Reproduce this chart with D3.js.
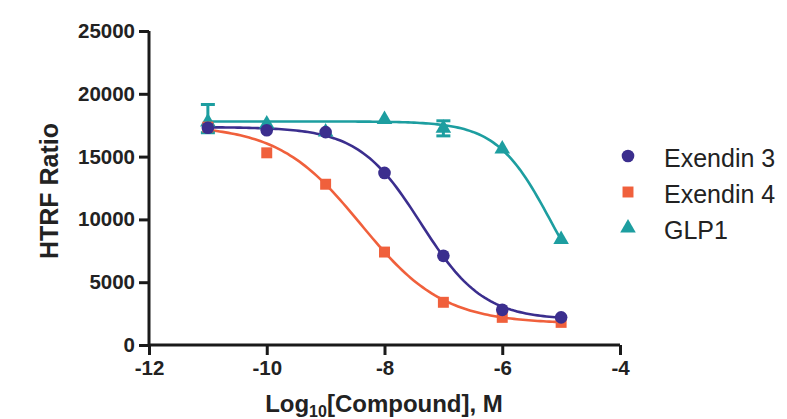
<!DOCTYPE html>
<html><head><meta charset="utf-8">
<script src="https://cdn.jsdelivr.net/npm/d3@7"></script>
<style>body{margin:0;background:#fff}svg{display:block}</style>
</head><body>
<svg id="c" width="787" height="419"></svg>
<script>
const logDose = [-11, -10, -9, -8, -7, -6, -5];
const exendin3 = [17300, 17100, 16950, 13700, 7100, 2800, 2200];
const exendin4 = [17350, 15300, 12800, 7400, 3400, 2200, 1800];
const glp1 = [17750, 17600, 16950, 17950, 17250, 15600, 8400];
const glp1ErrUp = [19150, null, null, null, 17850, null, null];
const glp1ErrLo = [16900, null, null, null, 16650, null, null];
// fitted 4-parameter logistic curves: top, bottom, logEC50, hill
const fitTop = [17350, 17500, 17800];
const fitBottom = [2000, 1700, 2000];
const fitLogEC50 = [-7.38, -8.4, -5.18];
const fitHill = [0.82, 0.62, 0.95];
const seriesNames = ["Exendin 3", "Exendin 4", "GLP1"];
const colors = ["#3b2e8e", "#f0603c", "#1d9ea0"];
const xTicks = [-12, -10, -8, -6, -4];
const yTicks = [0, 5000, 10000, 15000, 20000, 25000];

const svg = d3.select("#c");
const x = d3.scaleLinear().domain([-12, -4]).range([149, 620]);
const y = d3.scaleLinear().domain([0, 25000]).range([345, 31]);
const axisColor = "#1a1a1a";
const FONT = "Liberation Sans, Arial, sans-serif";

// curves
const seriesVals = [exendin3, exendin4, glp1];
seriesVals.forEach((vals, i) => {
  const xs = d3.range(-11, -5 + 1e-9, 0.05);
  const pts = xs.map(v => [v, fitBottom[i] + (fitTop[i] - fitBottom[i]) / (1 + Math.pow(10, (v - fitLogEC50[i]) * fitHill[i]))]);
  svg.append("path").datum(pts)
    .attr("fill", "none").attr("stroke", colors[i]).attr("stroke-width", 2.6)
    .attr("d", d3.line().x(d => x(d[0])).y(d => y(d[1])));
});

// error bars for GLP1
logDose.forEach((d, j) => {
  if (glp1ErrUp[j] == null) return;
  const g = svg.append("g").attr("stroke", colors[2]).attr("stroke-width", 3);
  g.append("line").attr("x1", x(d)).attr("x2", x(d)).attr("y1", y(glp1ErrUp[j])).attr("y2", y(glp1ErrLo[j]));
  [glp1ErrUp[j], glp1ErrLo[j]].forEach(v => g.append("line").attr("x1", x(d) - 7).attr("x2", x(d) + 7).attr("y1", y(v)).attr("y2", y(v)));
});

const sym = [d3.symbolCircle, d3.symbolSquare, d3.symbolTriangle];
const symSize = [125, 120, 105];
[2, 1, 0].forEach(i => {
  seriesVals[i].forEach((v, j) => {
    svg.append("path").attr("d", d3.symbol(sym[i], symSize[i])())
      .attr("transform", `translate(${x(logDose[j])},${y(v)})`)
      .attr("fill", colors[i]);
  });
});

// axes
const yAxis = svg.append("g").attr("transform", "translate(149,0)")
  .call(d3.axisLeft(y).tickValues(yTicks).tickSize(10).tickPadding(4).tickFormat(d3.format("d")));
const xAxis = svg.append("g").attr("transform", "translate(0,345)")
  .call(d3.axisBottom(x).tickValues(xTicks).tickSize(10).tickPadding(5).tickFormat(d => d < 0 ? "-" + Math.abs(d) : d));
[yAxis, xAxis].forEach(a => {
  a.select(".domain").attr("stroke", axisColor).attr("stroke-width", 3);
  a.selectAll(".tick line").attr("stroke", axisColor).attr("stroke-width", 3);
  a.selectAll("text").attr("fill", "#222").attr("font-family", FONT)
    .attr("font-weight", "bold").attr("font-size", 20.5);
});
yAxis.select(".domain").attr("d", "M0,345V31");
xAxis.select(".domain").attr("d", "M149,0H620");

// axis titles
svg.append("text").attr("transform", "translate(58,191) rotate(-90)")
  .attr("text-anchor", "middle").attr("font-family", FONT)
  .attr("font-weight", "bold").attr("font-size", 25).attr("fill", "#222").text("HTRF Ratio");
const xt = svg.append("text").attr("x", 384).attr("y", 412)
  .attr("text-anchor", "middle").attr("font-family", FONT)
  .attr("font-weight", "bold").attr("font-size", 24).attr("fill", "#222");
xt.append("tspan").text("Log");
xt.append("tspan").attr("font-size", 16).attr("dy", 5).text("10");
xt.append("tspan").attr("dy", -5).text("[Compound], M");

// legend
seriesNames.forEach((n, i) => {
  const ly = 156 + i * 36;
  svg.append("path").attr("d", d3.symbol(sym[i], symSize[i])())
    .attr("transform", `translate(628,${ly})`).attr("fill", colors[i]);
  svg.append("text").attr("x", 664).attr("y", ly + 11)
    .attr("font-family", FONT).attr("font-size", 25)
    .attr("fill", "#222").text(n);
});
</script>
</body></html>
